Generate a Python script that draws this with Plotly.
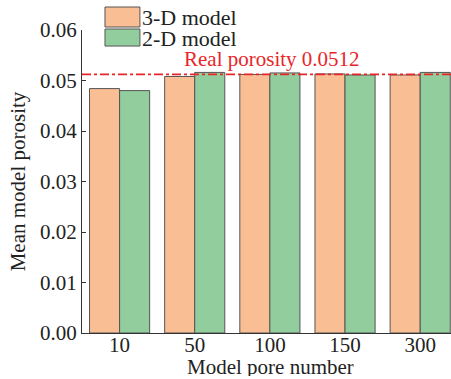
import plotly.graph_objects as go

categories = ["10", "50", "100", "150", "300"]
series_names = ["3-D model", "2-D model"]
model_3d = [0.0484, 0.0508, 0.0512, 0.0513, 0.0511]
model_2d = [0.0480, 0.0516, 0.0515, 0.0511, 0.0516]
real_porosity = 0.0512
y_ticks = [0.00, 0.01, 0.02, 0.03, 0.04, 0.05, 0.06]
x_title = "Model pore number"
y_title = "Mean model porosity"

colors = ["#F9BE94", "#92CD9E"]
font_family = "Liberation Serif, Times New Roman, serif"
FS = 21

fig = go.Figure()
for name, vals, c in zip(series_names, [model_3d, model_2d], colors):
    fig.add_trace(go.Bar(
        x=categories, y=vals, name=name, marker=dict(color=c, line=dict(color="#555555", width=1)),
        showlegend=False,
    ))

# reference line
fig.add_shape(type="line", xref="paper", yref="y", x0=0, x1=1, y0=real_porosity, y1=real_porosity,
              line=dict(color="#E8262A", width=1.8, dash="dashdot"))
fig.add_annotation(xref="paper", yref="y", x=0.27, y=real_porosity, yanchor="middle", xanchor="left",
                   text=f"Real porosity {real_porosity}", showarrow=False,
                   font=dict(family=font_family, size=FS, color="#E8262A"), yshift=15)

# manual legend with large swatches
legend_rows = [(1.0759, 1.0099), (1.0033, 0.947)]
for (y1, y0), name, c in zip(legend_rows, series_names, colors):
    fig.add_shape(type="rect", xref="paper", yref="paper", x0=0.0623, x1=0.157, y0=y0, y1=y1,
                  fillcolor=c, line=dict(color="#555555", width=1))
    fig.add_annotation(xref="paper", yref="paper", x=0.16, y=(y0 + y1) / 2, xanchor="left", yanchor="middle",
                       text=name, showarrow=False, height=18, borderpad=0,
                       font=dict(family=font_family, size=22, color="#222222"))

# x-axis title
fig.add_annotation(xref="paper", yref="paper", x=0.512, y=-0.112, xanchor="center", yanchor="middle",
                   text=x_title, showarrow=False, height=18, borderpad=0,
                   font=dict(family=font_family, size=FS, color="#222222"))

fig.update_layout(
    width=451, height=379,
    margin=dict(l=82, r=0, t=30, b=46),
    paper_bgcolor="white", plot_bgcolor="white",
    barmode="group", bargap=0.2, bargroupgap=0,
    font=dict(family=font_family, size=FS, color="#222222"),
)
fig.update_xaxes(
    type="category", range=[-0.5, 4.41],
    showline=True, linecolor="#333333", linewidth=1.3, ticks="", showgrid=False,
    tickfont=dict(size=FS), ticklabelstandoff=-7,
)
fig.update_yaxes(
    range=[0, 0.06], tickvals=y_ticks, tickformat=".2f",
    showline=True, linecolor="#333333", linewidth=1.3, ticks="inside", ticklen=4, tickcolor="#333333",
    showgrid=False, zeroline=False, tickfont=dict(size=FS),
    title=dict(text=y_title, font=dict(size=FS), standoff=8),
)

fig.write_html("out.html")
